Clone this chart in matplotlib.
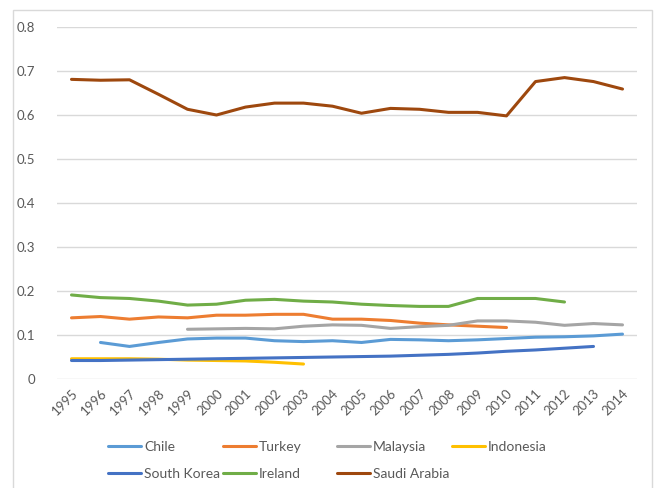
import matplotlib
matplotlib.use("Agg")
import matplotlib.pyplot as plt
import numpy as np
from matplotlib.patches import Rectangle

plt.rcParams['font.family'] = ['Lato', 'DejaVu Sans']

years = list(range(1995, 2015))

# None = no data for that year
chile = [None, 0.083, 0.074, 0.083, 0.091, 0.093, 0.093, 0.087, 0.085, 0.087,
         0.083, 0.090, 0.089, 0.087, 0.089, 0.092, 0.095, 0.096, 0.098, 0.102]
turkey = [0.139, 0.142, 0.136, 0.141, 0.139, 0.145, 0.145, 0.147, 0.147, 0.136,
          0.136, 0.133, 0.127, 0.123, 0.120, 0.117, None, None, None, None]
malaysia = [None, None, None, None, 0.113, 0.114, 0.115, 0.114, 0.120, 0.123,
            0.122, 0.115, 0.119, 0.122, 0.132, 0.132, 0.129, 0.122, 0.126, 0.123]
indonesia = [0.046, 0.046, 0.046, 0.045, 0.043, 0.042, 0.041, 0.038, 0.034, None,
             None, None, None, None, None, None, None, None, None, None]
south_korea = [0.042, 0.042, 0.043, 0.044, 0.045, 0.046, 0.047, 0.048, 0.049, 0.050,
               0.051, 0.052, 0.054, 0.056, 0.059, 0.063, 0.066, 0.070, 0.074, None]
ireland = [0.191, 0.185, 0.183, 0.177, 0.168, 0.170, 0.179, 0.181, 0.177, 0.175,
           0.170, 0.167, 0.165, 0.165, 0.183, 0.183, 0.183, 0.175, None, None]
saudi_arabia = [0.681, 0.679, 0.680, 0.647, 0.613, 0.600, 0.618, 0.627, 0.627, 0.620,
                0.604, 0.615, 0.613, 0.606, 0.606, 0.598, 0.676, 0.685, 0.676, 0.659]

series = [
    ("Chile", chile, "#5B9BD5"),
    ("Turkey", turkey, "#ED7D31"),
    ("Malaysia", malaysia, "#A5A5A5"),
    ("Indonesia", indonesia, "#FFC000"),
    ("South Korea", south_korea, "#4472C4"),
    ("Ireland", ireland, "#70AD47"),
    ("Saudi Arabia", saudi_arabia, "#9E480E"),
]

W, H = 654, 488
fig = plt.figure(figsize=(W / 100, H / 100), dpi=100)
# outer chart frame
fig.patches.append(Rectangle((13 / W, -0.05), (652 - 13) / W, 1.05 - 10 / H,
                             transform=fig.transFigure, fill=False,
                             edgecolor="#d9d9d9", linewidth=1))

ax = fig.add_axes([57 / W, 1 - 379 / H, 580 / W, 352 / H])
x = np.arange(len(years))
lines = []
for name, vals, color in series:
    y = np.array([np.nan if v is None else v for v in vals])
    ln, = ax.plot(x, y, color=color, linewidth=2.2, label=name, solid_capstyle="round")
    lines.append(ln)

ax.set_xlim(-0.5, len(years) - 0.5)
ax.set_ylim(0, 0.8)
ax.set_yticks(np.arange(0, 0.81, 0.1))
ax.set_yticklabels(["0"] + ["%.1f" % v for v in np.arange(0.1, 0.81, 0.1)])
ax.set_xticks(x)
ax.set_xticklabels([str(yr) for yr in years], rotation=45, ha="right",
                   va="top", rotation_mode="anchor")
ax.grid(axis="y", color="#d9d9d9", linewidth=1)
ax.set_axisbelow(True)
for s in ax.spines.values():
    s.set_visible(False)
ax.tick_params(length=0, labelsize=9.5, labelcolor="#595959")
ax.tick_params(axis="y", pad=16)
ax.tick_params(axis="x", pad=6)

# legend: 4 evenly spaced columns, filled row by row
col_x = [108, 223, 337, 452]
for c in range(4):
    hs = lines[c::4]
    leg = fig.legend(hs, [h.get_label() for h in hs], loc="upper left",
                     bbox_to_anchor=(col_x[c] / W, 1 - 441 / H), ncol=1,
                     frameon=False, fontsize=10, labelcolor="#595959",
                     handlelength=2.4, handletextpad=0.2, labelspacing=1.1,
                     borderpad=0, borderaxespad=0)

fig.savefig("out.png", dpi=100)
